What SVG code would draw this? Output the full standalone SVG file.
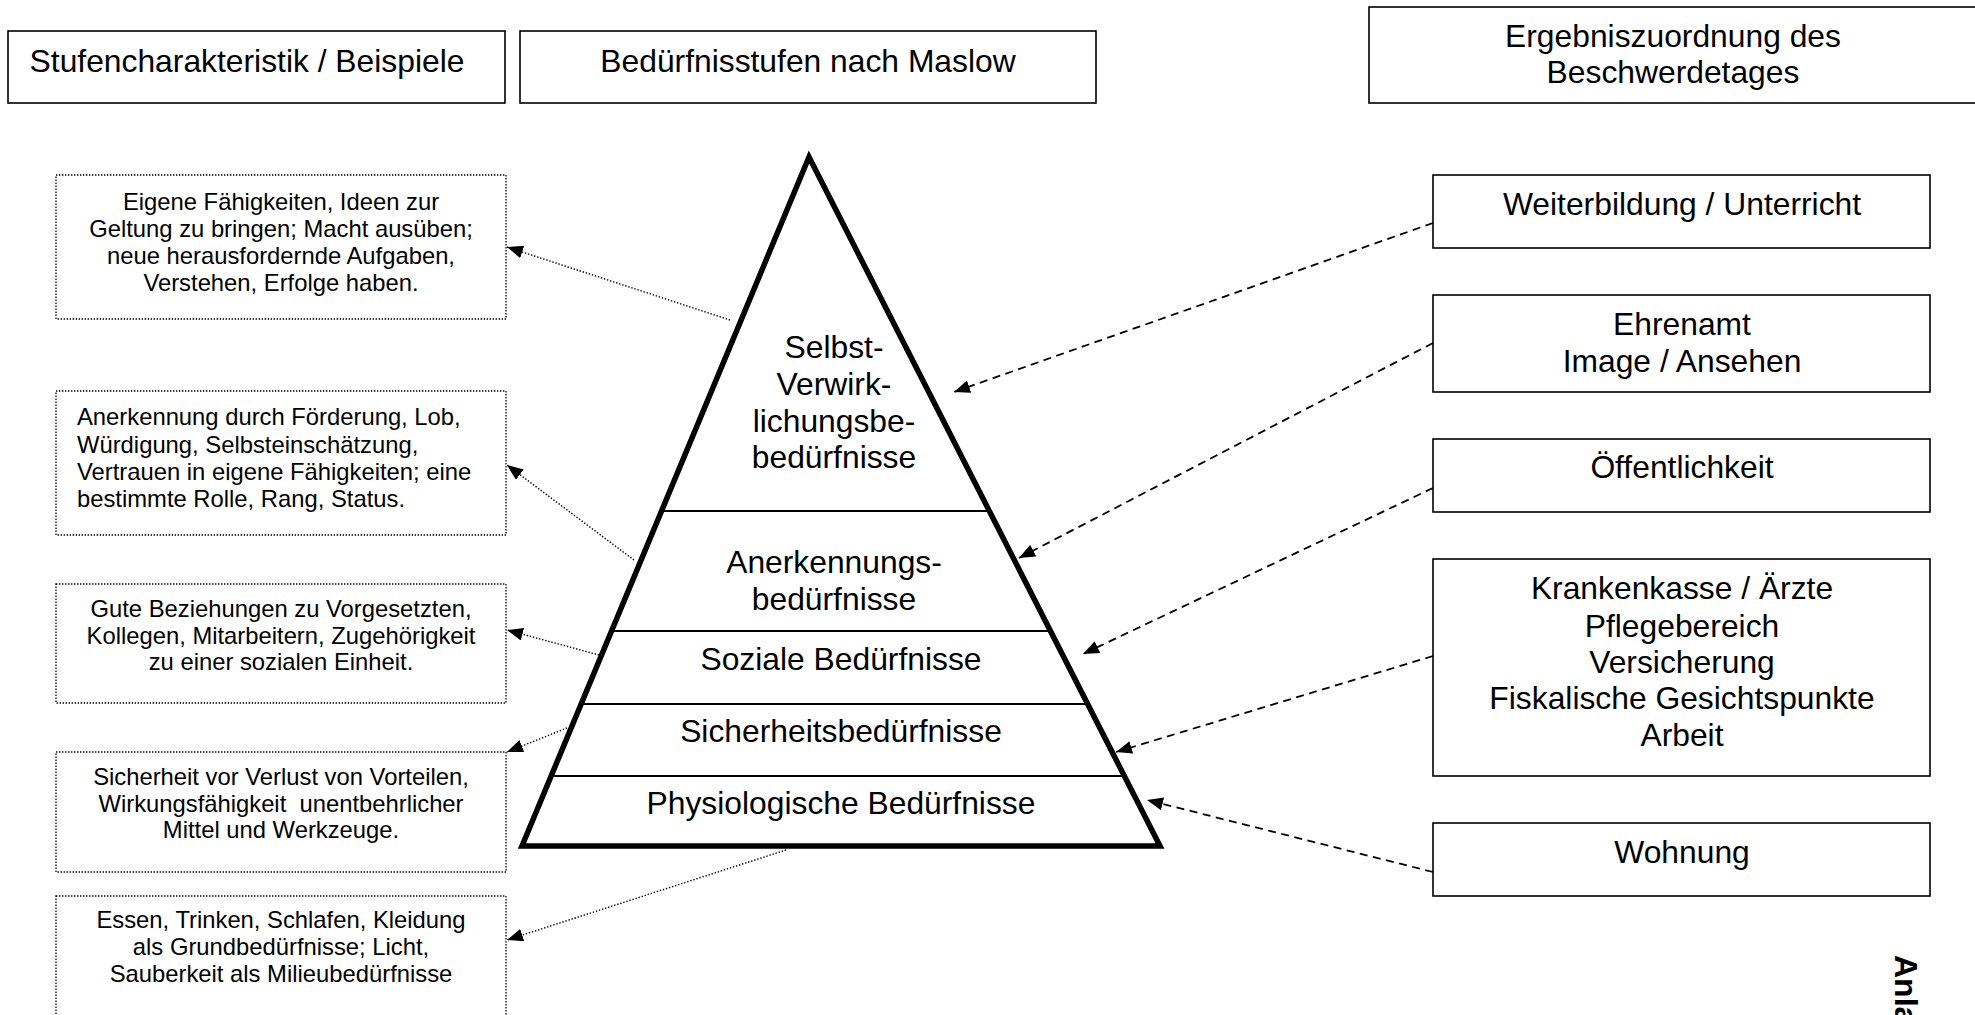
<svg xmlns="http://www.w3.org/2000/svg" width="1975" height="1015" viewBox="0 0 1975 1015">
<style>
text{font-family:"Liberation Sans",Arial,sans-serif;fill:#000}
.h{font-size:31.8px;text-anchor:middle}
.s{font-size:23.8px;text-anchor:middle}
.sl{font-size:23.8px;text-anchor:start}
.box{fill:#fff;stroke:#000;stroke-width:1.6}
.dot{fill:#fff;stroke:#000;stroke-width:1.3;stroke-dasharray:1.4 1.6}
.pyr{fill:#fff;stroke:#000;stroke-width:5.5;stroke-linejoin:miter}
.div{stroke:#000;stroke-width:2}
.ldot{fill:none;stroke:#000;stroke-width:1.4;stroke-dasharray:1.4 1.8}
.rdash{fill:none;stroke:#000;stroke-width:1.8;stroke-dasharray:8 5.5}
</style>
<defs>
<marker id="ah" markerUnits="userSpaceOnUse" markerWidth="17" markerHeight="13" refX="16" refY="6.5" orient="auto">
<path d="M0,0 L16,6.5 L0,13 Z" fill="#000"/>
</marker>
</defs>
<rect width="1975" height="1015" fill="#fff"/>

<g id="header-stufen">
<rect class="box" x="8" y="31" width="497" height="72"/>
<text class="h" x="247" y="72">Stufencharakteristik / Beispiele</text>
</g>
<g id="header-maslow">
<rect class="box" x="520" y="31" width="576" height="72"/>
<text class="h" x="808" y="72">Bedürfnisstufen nach Maslow</text>
</g>
<g id="header-ergebnis">
<rect class="box" x="1369" y="7" width="620" height="96"/>
<text class="h" x="1673" y="47">Ergebniszuordnung des</text>
<text class="h" x="1673" y="83">Beschwerdetages</text>
</g>

<g id="pyramid">
<polygon class="pyr" points="809,157 1160,846 522,846"/>
<line class="div" x1="662" y1="511" x2="990" y2="511"/>
<line class="div" x1="613" y1="631" x2="1051" y2="631"/>
<line class="div" x1="583" y1="704" x2="1088" y2="704"/>
<line class="div" x1="553" y1="776" x2="1125" y2="776"/>
<text class="h" x="834" y="358">Selbst-</text>
<text class="h" x="834" y="395">Verwirk-</text>
<text class="h" x="834" y="432">lichungsbe-</text>
<text class="h" x="834" y="468">bedürfnisse</text>
<text class="h" x="834" y="573">Anerkennungs-</text>
<text class="h" x="834" y="610">bedürfnisse</text>
<text class="h" x="841" y="670">Soziale Bedürfnisse</text>
<text class="h" x="841" y="742">Sicherheitsbedürfnisse</text>
<text class="h" x="841" y="814">Physiologische Bedürfnisse</text>
</g>

<g id="left-selbst">
<rect class="dot" x="56" y="175" width="450" height="144"/>
<text class="s" x="281" y="210">Eigene Fähigkeiten, Ideen zur</text>
<text class="s" x="281" y="237">Geltung zu bringen; Macht ausüben;</text>
<text class="s" x="281" y="264">neue herausfordernde Aufgaben,</text>
<text class="s" x="281" y="291">Verstehen, Erfolge haben.</text>
</g>
<g id="left-anerkennung">
<rect class="dot" x="56" y="391" width="450" height="144"/>
<text class="sl" x="77" y="425">Anerkennung durch Förderung, Lob,</text>
<text class="sl" x="77" y="453">Würdigung, Selbsteinschätzung,</text>
<text class="sl" x="77" y="480">Vertrauen in eigene Fähigkeiten; eine</text>
<text class="sl" x="77" y="507">bestimmte Rolle, Rang, Status.</text>
</g>
<g id="left-sozial">
<rect class="dot" x="56" y="584" width="450" height="119"/>
<text class="s" x="281" y="617">Gute Beziehungen zu Vorgesetzten,</text>
<text class="s" x="281" y="643.5">Kollegen, Mitarbeitern, Zugehörigkeit</text>
<text class="s" x="281" y="670">zu einer sozialen Einheit.</text>
</g>
<g id="left-sicherheit">
<rect class="dot" x="56" y="752" width="450" height="120"/>
<text class="s" x="281" y="785">Sicherheit vor Verlust von Vorteilen,</text>
<text class="s" x="281" y="812" style="white-space:pre">Wirkungsfähigkeit  unentbehrlicher</text>
<text class="s" x="281" y="838">Mittel und Werkzeuge.</text>
</g>
<g id="left-physio">
<rect class="dot" x="56" y="896" width="450" height="140"/>
<text class="s" x="281" y="928">Essen, Trinken, Schlafen, Kleidung</text>
<text class="s" x="281" y="955">als Grundbedürfnisse; Licht,</text>
<text class="s" x="281" y="982">Sauberkeit als Milieubedürfnisse</text>
</g>

<g id="right-weiterbildung">
<rect class="box" x="1433" y="175" width="497" height="73"/>
<text class="h" x="1682" y="215">Weiterbildung / Unterricht</text>
</g>
<g id="right-ehrenamt">
<rect class="box" x="1433" y="295" width="497" height="97"/>
<text class="h" x="1682" y="335">Ehrenamt</text>
<text class="h" x="1682" y="372">Image / Ansehen</text>
</g>
<g id="right-oeffentlichkeit">
<rect class="box" x="1433" y="439" width="497" height="73"/>
<text class="h" x="1682" y="478">Öffentlichkeit</text>
</g>
<g id="right-krankenkasse">
<rect class="box" x="1433" y="559" width="497" height="217"/>
<text class="h" x="1682" y="599">Krankenkasse / Ärzte</text>
<text class="h" x="1682" y="637">Pflegebereich</text>
<text class="h" x="1682" y="673">Versicherung</text>
<text class="h" x="1682" y="709">Fiskalische Gesichtspunkte</text>
<text class="h" x="1682" y="746">Arbeit</text>
</g>
<g id="right-wohnung">
<rect class="box" x="1433" y="823" width="497" height="73"/>
<text class="h" x="1682" y="863">Wohnung</text>
</g>

<g id="connectors">
<line class="ldot" x1="730" y1="320" x2="507" y2="247" marker-end="url(#ah)"/>
<line class="ldot" x1="634" y1="560" x2="507" y2="465" marker-end="url(#ah)"/>
<line class="ldot" x1="599" y1="655" x2="507" y2="630" marker-end="url(#ah)"/>
<line class="ldot" x1="567" y1="728" x2="507" y2="752" marker-end="url(#ah)"/>
<line class="ldot" x1="786" y1="850" x2="507" y2="940" marker-end="url(#ah)"/>
<line class="rdash" x1="1433" y1="223" x2="954" y2="392" marker-end="url(#ah)"/>
<line class="rdash" x1="1433" y1="343" x2="1019" y2="558" marker-end="url(#ah)"/>
<line class="rdash" x1="1433" y1="488" x2="1083" y2="654" marker-end="url(#ah)"/>
<line class="rdash" x1="1433" y1="656" x2="1116" y2="752" marker-end="url(#ah)"/>
<line class="rdash" x1="1433" y1="872" x2="1147" y2="800" marker-end="url(#ah)"/>
</g>

<text x="1895" y="955" transform="rotate(90 1895 955)" style="font-size:32px;font-weight:bold">Anla</text>
</svg>
